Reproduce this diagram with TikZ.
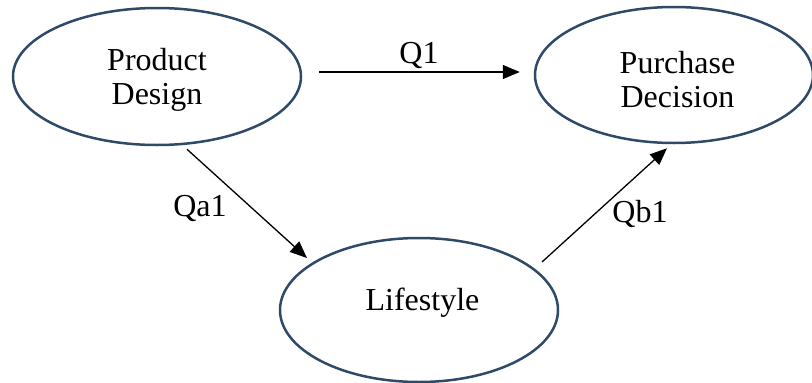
\documentclass[tikz,border=0pt]{standalone}
\usepackage{fontspec}
\setmainfont{Liberation Serif}
\usetikzlibrary{shapes.geometric,arrows.meta,calc}
\definecolor{ellcol}{HTML}{2E4A68}
\newcommand{\ovtext}[3]{\hspace*{#1}\raisebox{#2}[0pt][0pt]{\begin{tabular}[b]{@{}c@{}}#3\end{tabular}}}
\begin{document}
\begin{tikzpicture}[x=1pt,y=-1pt,
  oval/.style={draw=ellcol,line width=2.5pt,ellipse,inner sep=0pt,
    align=center,font=\fontsize{32}{33.5}\selectfont},
  conn/.style={line width=1.3pt,-{Triangle[length=17pt,width=14pt]}},
  lbl/.style={font=\fontsize{32}{36}\selectfont,inner sep=0pt}]
\useasboundingbox (0,0) rectangle (812,383);
\node[oval,minimum width=288pt,minimum height=137pt] (pd) at (157,76.5) {\ovtext{0pt}{-27.5pt}{Product\\Design}};
\node[oval,minimum width=278pt,minimum height=136pt] (pur) at (674,75) {\ovtext{7pt}{-32pt}{Purchase\\Decision}};
\node[oval,minimum width=278pt,minimum height=144pt] (ls) at (419,310) {\ovtext{7pt}{-0.7pt}{Lifestyle}};
\draw[conn] ([xshift=17pt,yshift=4.5pt]pd.east) -- ([xshift=-14pt,yshift=3pt]pur.west);
\draw[conn] ([xshift=30pt,yshift=-3pt]pd.south) -- ([xshift=-112pt,yshift=52pt]ls.center);
\draw[conn] ([xshift=123pt,yshift=48pt]ls.center) -- ([xshift=-7pt,yshift=-4pt]pur.south);
\node[lbl] (q1) at (419,55) {Q1};
\node[lbl] (qa1) at (200,208) {Qa1};
\node[lbl] (qb1) at (640,214) {Qb1};
\end{tikzpicture}
\end{document}
